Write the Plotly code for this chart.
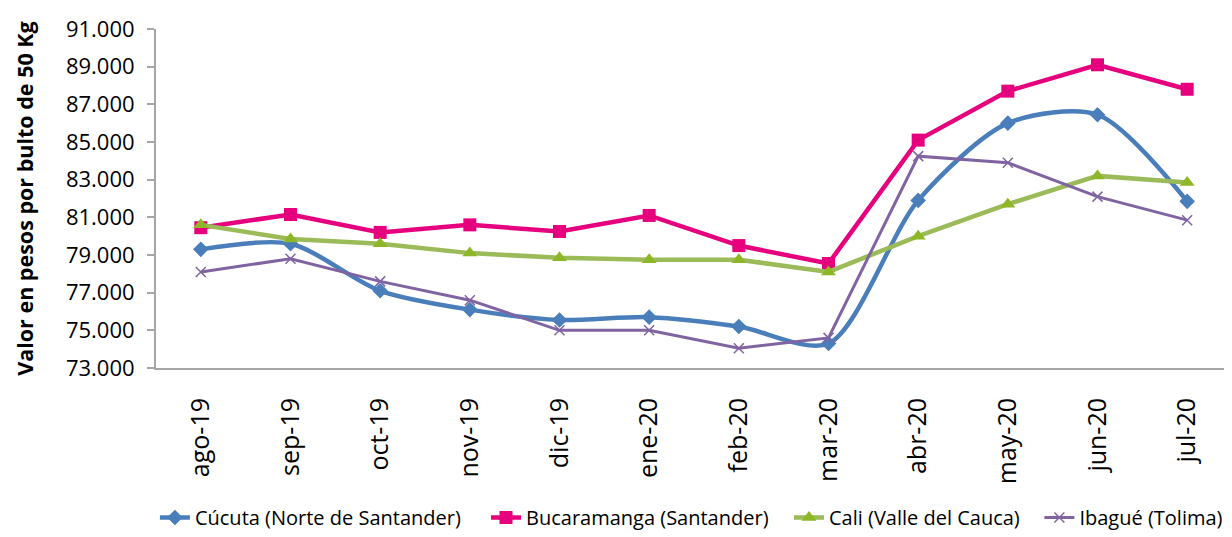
import plotly.graph_objects as go

months = ["ago-19", "sep-19", "oct-19", "nov-19", "dic-19", "ene-20",
          "feb-20", "mar-20", "abr-20", "may-20", "jun-20", "jul-20"]
cucuta = [79300, 79600, 77100, 76100, 75550, 75700, 75200, 74300, 81900, 86000, 86450, 81850]
bucaramanga = [80450, 81150, 80200, 80600, 80250, 81100, 79500, 78550, 85100, 87700, 89100, 87800]
cali = [80600, 79850, 79600, 79100, 78850, 78750, 78750, 78100, 80000, 81700, 83200, 82850]
ibague = [78100, 78800, 77600, 76600, 75000, 75000, 74050, 74600, 84250, 83900, 82100, 80850]
y_ticks = [73000, 75000, 77000, 79000, 81000, 83000, 85000, 87000, 89000, 91000]

fig = go.Figure()
fig.add_trace(go.Scatter(x=months, y=cucuta, name="Cúcuta (Norte de Santander)", legend="legend",
                         mode="lines+markers", line=dict(color="#4A7EBB", width=4.5, shape="spline", smoothing=0.8),
                         marker=dict(symbol="diamond", size=12, color="#4A7EBB")))
fig.add_trace(go.Scatter(x=months, y=bucaramanga, name="Bucaramanga (Santander)", legend="legend2",
                         mode="lines+markers", line=dict(color="#E6007E", width=4.5),
                         marker=dict(symbol="square", size=13, color="#E6007E")))
fig.add_trace(go.Scatter(x=months, y=cali, name="Cali (Valle del Cauca)", legend="legend3",
                         mode="lines+markers", line=dict(color="#9BBB59", width=4.5),
                         marker=dict(symbol="triangle-up", size=13, color="#8DB726")))
fig.add_trace(go.Scatter(x=months, y=ibague, name="Ibagué (Tolima)", legend="legend4",
                         mode="lines+markers", line=dict(color="#8064A2", width=3),
                         marker=dict(symbol="x-thin", size=10, color="#8064A2",
                                     line=dict(color="#8064A2", width=1.5))))

leg_common = dict(orientation="h", xanchor="left", y=-0.442, yanchor="middle",
                  font=dict(size=20), itemwidth=30, bgcolor="rgba(0,0,0,0)")

# page body has an 8px margin, so the figure is 8px smaller and margins shifted
fig.update_layout(
    width=1224, height=529,
    margin=dict(l=148, r=0, t=21, b=164),
    paper_bgcolor="white", plot_bgcolor="white",
    separators=",.",
    font=dict(family="Open Sans, Noto Sans, sans-serif", size=20, color="#000000"),
    showlegend=True,
    legend=dict(x=-0.001, **leg_common),
    legend2=dict(x=0.3067, **leg_common),
    legend3=dict(x=0.5883, **leg_common),
    legend4=dict(x=0.821, **leg_common),
    xaxis=dict(type="category", range=[-0.5, 11.5], showgrid=False, showline=True,
               linecolor="#A6A6A6", linewidth=2, ticks="", tickangle=-90,
               ticklabelstandoff=18, automargin=False,
               tickfont=dict(size=25)),
    yaxis=dict(range=[73000, 91000], tickvals=y_ticks, tickformat=",.0f",
               showgrid=False, showline=True, linecolor="#A6A6A6", linewidth=2,
               ticks="outside", ticklen=7, tickcolor="#A6A6A6", tickwidth=1.5,
               ticklabelstandoff=8, zeroline=False, automargin=False,
               tickfont=dict(size=22),
               title=dict(text="<b>Valor en pesos por bulto de 50 Kg</b>", font=dict(size=21.5), standoff=26)),
)

fig.write_html("out.html")
